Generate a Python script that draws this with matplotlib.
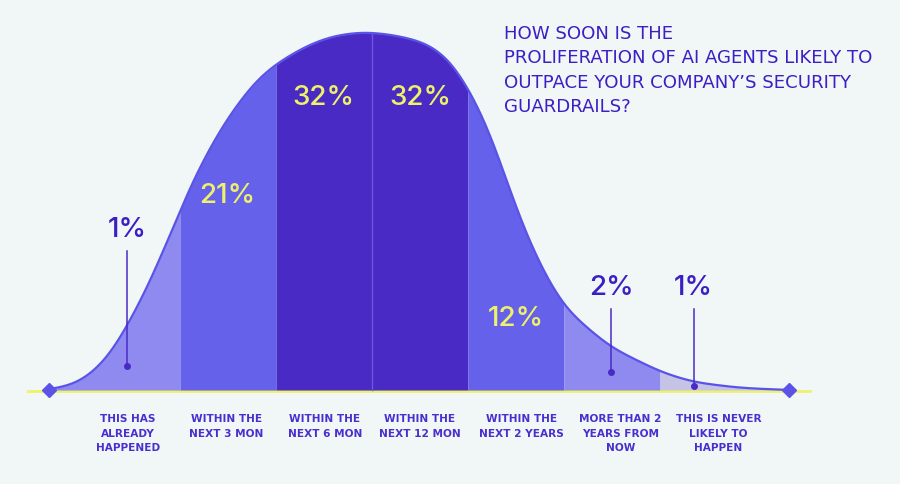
import numpy as np
import matplotlib
matplotlib.use("Agg")
import matplotlib.pyplot as plt

# answer categories, left to right
categories = ["THIS HAS\nALREADY\nHAPPENED", "WITHIN THE\nNEXT 3 MON", "WITHIN THE\nNEXT 6 MON",
              "WITHIN THE\nNEXT 12 MON", "WITHIN THE\nNEXT 2 YEARS", "MORE THAN 2\nYEARS FROM\nNOW",
              "THIS IS NEVER\nLIKELY TO\nHAPPEN"]
percents = [1, 21, 32, 32, 12, 2, 1]
title = "HOW SOON IS THE\nPROLIFERATION OF AI AGENTS LIKELY TO\nOUTPACE YOUR COMPANY\u2019S SECURITY\nGUARDRAILS?"

# outline of the bell shape (x in segment units, height relative to peak)
curve_x = [-0.365, -0.042, 0.24, 0.448, 0.688, 1.0, 1.135, 1.448, 1.781, 2.01, 2.354, 2.615, 2.927, 3.25,
           3.573, 3.813, 4.0, 4.156, 4.26, 4.406, 4.542, 4.719, 4.99, 5.302, 5.479, 6.01, 6.344, 6.833, 7.344]
curve_h = [0.0, 0.020, 0.084, 0.176, 0.300, 0.499, 0.588, 0.742, 0.863, 0.913, 0.966, 0.990, 1.0, 0.990,
           0.969, 0.924, 0.846, 0.765, 0.700, 0.580, 0.476, 0.364, 0.232, 0.160, 0.120, 0.050, 0.022, 0.006, 0.0]

# layout
BG = "#f1f6f6"
INK = "#3b1fc4"
YELLOW = "#eef26a"
seg_colors = ["#8e8af0", "#6561ea", "#4a2ac4", "#4a2ac4", "#6561ea", "#8e8af0", "#c5c4e6"]
seg_edges = [-0.365, 1, 2, 3, 4, 5, 6, 7.344]
label_x = [0.45, 1.49, 2.49, 3.5, 4.5, 5.49, 6.35]
label_y = [0.448, 0.543, 0.818, 0.818, 0.200, 0.286, 0.286]
inside = [False, True, True, True, True, False, False]
dot_y = [0.067, None, None, None, None, 0.050, 0.011]
cat_x = [0.458, 1.48, 2.51, 3.5, 4.56, 5.59, 6.61]


def smooth_outline(xs, ys, sigma=0.13, n=2400):
    # piecewise-linear outline softened with a gaussian kernel
    xx = np.linspace(xs[0], xs[-1], n)
    yy = np.interp(xx, xs, ys)
    step = xx[1] - xx[0]
    half = int(4 * sigma / step)
    kern = np.exp(-0.5 * (np.arange(-half, half + 1) * step / sigma) ** 2)
    kern /= kern.sum()
    padded = np.concatenate([np.zeros(half), yy, np.zeros(half)])
    ys2 = np.convolve(padded, kern, mode="valid")
    ys2 = ys2 / ys2.max() * max(ys)
    ys2 = np.clip(ys2 - ys2[0] * 0, 0, None)
    ys2[0] = ys2[-1] = 0
    return xx, ys2


fig = plt.figure(figsize=(9, 4.84), dpi=100, facecolor=BG)
ax = fig.add_axes([0, 0, 1, 1])
ax.set_facecolor(BG)
ax.set_xlim(-0.875, 8.5)
ax.set_ylim(-0.263, 1.092)
ax.axis("off")

cx, ch = smooth_outline(curve_x, curve_h)

for i in range(len(percents)):
    lo, hi = seg_edges[i], seg_edges[i + 1]
    m = (cx > lo) & (cx < hi)
    xx = np.concatenate([[lo], cx[m], [hi]])
    yy = np.concatenate([[np.interp(lo, cx, ch)], ch[m], [np.interp(hi, cx, ch)]])
    ax.fill_between(xx, 0, yy, color=seg_colors[i], lw=0, zorder=2)

# thin divider between the two darkest segments
ax.plot([3, 3], [0, np.interp(3, cx, ch)], color="#6b57e2", lw=1, zorder=3)

ax.plot(cx, ch, color="#5a53e6", lw=1.6, zorder=4, solid_capstyle="round")
ax.plot([-0.583, 7.5625], [-0.004, -0.004], color=YELLOW, lw=2, zorder=1)
ax.plot([seg_edges[0], seg_edges[-1]], [0, 0], ls="none", marker="D", ms=7.5, color="#5a53e6", zorder=5)

for i, p in enumerate(percents):
    if inside[i]:
        ax.text(label_x[i], label_y[i], f"{p}%", color=YELLOW, fontsize=20, family="Inter", weight=500,
                ha="center", va="center", zorder=6)
    else:
        ax.text(label_x[i], label_y[i], f"{p}%", color=INK, fontsize=20, family="Inter", weight=500,
                ha="center", va="center", zorder=6)
        ax.plot([label_x[i], label_x[i]], [label_y[i] - 0.058, dot_y[i]], color="#4a2ac4", lw=1.1, zorder=6)
        ax.plot(label_x[i], dot_y[i], "o", ms=4, color="#4a2ac4", zorder=6)

for i, c in enumerate(categories):
    ax.text(cat_x[i], -0.068, c, color="#4a2fcf", fontsize=7.6, family="DejaVu Sans", weight="bold",
            ha="center", va="top", linespacing=1.55)

ax.text(4.375, 1.022, title, color=INK, fontsize=13.1, family="DejaVu Sans",
        ha="left", va="top", linespacing=1.46)

fig.savefig("out.png", dpi=100, facecolor=BG)
